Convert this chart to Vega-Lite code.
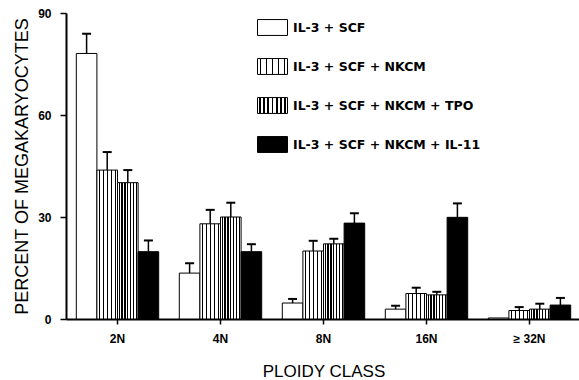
{
  "$schema": "https://vega.github.io/schema/vega-lite/v6.json",
  "autosize": "none",
  "padding": {"left": 66, "top": 13, "right": 0, "bottom": 61},
  "width": 515,
  "height": 306,
  "background": "white",
  "data": {
    "values": [
      {"ploidy": "2N", "group": "IL-3 + SCF", "pct": 78.1, "hi": 83.9},
      {"ploidy": "2N", "group": "IL-3 + SCF + NKCM", "pct": 43.8, "hi": 49.1},
      {"ploidy": "2N", "group": "IL-3 + SCF + NKCM + TPO", "pct": 40.1, "hi": 43.8},
      {"ploidy": "2N", "group": "IL-3 + SCF + NKCM + IL-11", "pct": 19.8, "hi": 23.1},
      {"ploidy": "4N", "group": "IL-3 + SCF", "pct": 13.5, "hi": 16.4},
      {"ploidy": "4N", "group": "IL-3 + SCF + NKCM", "pct": 28.0, "hi": 32.1},
      {"ploidy": "4N", "group": "IL-3 + SCF + NKCM + TPO", "pct": 30.0, "hi": 34.2},
      {"ploidy": "4N", "group": "IL-3 + SCF + NKCM + IL-11", "pct": 19.8, "hi": 22.0},
      {"ploidy": "8N", "group": "IL-3 + SCF", "pct": 4.7, "hi": 5.9},
      {"ploidy": "8N", "group": "IL-3 + SCF + NKCM", "pct": 20.0, "hi": 23.0},
      {"ploidy": "8N", "group": "IL-3 + SCF + NKCM + TPO", "pct": 22.1, "hi": 23.6},
      {"ploidy": "8N", "group": "IL-3 + SCF + NKCM + IL-11", "pct": 28.2, "hi": 31.1},
      {"ploidy": "16N", "group": "IL-3 + SCF", "pct": 2.9, "hi": 3.9},
      {"ploidy": "16N", "group": "IL-3 + SCF + NKCM", "pct": 7.5, "hi": 9.2},
      {"ploidy": "16N", "group": "IL-3 + SCF + NKCM + TPO", "pct": 7.1, "hi": 8.0},
      {"ploidy": "16N", "group": "IL-3 + SCF + NKCM + IL-11", "pct": 29.9, "hi": 34.0},
      {"ploidy": "≥ 32N", "group": "IL-3 + SCF", "pct": 0.3, "hi": null},
      {"ploidy": "≥ 32N", "group": "IL-3 + SCF + NKCM", "pct": 2.5, "hi": 3.5},
      {"ploidy": "≥ 32N", "group": "IL-3 + SCF + NKCM + TPO", "pct": 2.9, "hi": 4.5},
      {"ploidy": "≥ 32N", "group": "IL-3 + SCF + NKCM + IL-11", "pct": 4.1, "hi": 6.2}
    ]
  },
  "encoding": {
    "x": {
      "field": "ploidy",
      "type": "nominal",
      "sort": ["2N", "4N", "8N", "16N", "≥ 32N"],
      "scale": {"paddingInner": 0.2, "paddingOuter": 0.1},
      "axis": {
        "title": "PLOIDY CLASS",
        "labelAngle": 0,
        "domainColor": "black",
        "domainWidth": 2,
        "tickColor": "black",
        "tickWidth": 1.5,
        "tickSize": 5,
        "labelPadding": 9,
        "labelFont": "Liberation Sans",
        "labelFontWeight": "bold",
        "labelFontSize": 12,
        "labelColor": "black",
        "titleFont": "Liberation Sans",
        "titleFontWeight": "normal",
        "titleFontSize": 17,
        "titleColor": "black",
        "titlePadding": 19
      }
    },
    "xOffset": {
      "field": "group",
      "type": "nominal",
      "sort": ["IL-3 + SCF", "IL-3 + SCF + NKCM", "IL-3 + SCF + NKCM + TPO", "IL-3 + SCF + NKCM + IL-11"],
      "scale": {"paddingInner": 0, "paddingOuter": 0}
    }
  },
  "layer": [
    {
      "mark": {"type": "bar", "stroke": "black", "strokeWidth": 1},
      "encoding": {
        "y": {
          "field": "pct",
          "type": "quantitative",
          "scale": {"domain": [0, 90]},
          "axis": {
            "title": "PERCENT OF MEGAKARYOCYTES",
            "values": [0, 30, 60, 90],
            "grid": false,
            "domainColor": "black",
            "domainWidth": 2,
            "tickColor": "black",
            "tickWidth": 1.5,
            "tickSize": 6,
            "labelPadding": 9,
            "labelFont": "Liberation Sans",
            "labelFontWeight": "bold",
            "labelFontSize": 12,
            "labelColor": "black",
            "titleFont": "Liberation Sans",
            "titleFontWeight": "normal",
            "titleFontSize": 18,
            "titleColor": "black",
            "titlePadding": 6
          }
        },
        "fill": {
          "field": "group",
          "type": "nominal",
          "sort": ["IL-3 + SCF", "IL-3 + SCF + NKCM", "IL-3 + SCF + NKCM + TPO", "IL-3 + SCF + NKCM + IL-11"],
          "scale": {
            "range": [
              "white",
              {"expr": "{gradient:'linear',x1:0,y1:0,x2:1,y2:0,stops:[{offset:0,color:'white'},{offset:0.08,color:'white'},{offset:0.08,color:'black'},{offset:0.13,color:'black'},{offset:0.13,color:'white'},{offset:0.28,color:'white'},{offset:0.28,color:'black'},{offset:0.33,color:'black'},{offset:0.33,color:'white'},{offset:0.48,color:'white'},{offset:0.48,color:'black'},{offset:0.53,color:'black'},{offset:0.53,color:'white'},{offset:0.68,color:'white'},{offset:0.68,color:'black'},{offset:0.73,color:'black'},{offset:0.73,color:'white'},{offset:0.88,color:'white'},{offset:0.88,color:'black'},{offset:0.93,color:'black'},{offset:0.93,color:'white'},{offset:1,color:'white'}]}"},
              {"expr": "{gradient:'linear',x1:0,y1:0,x2:1,y2:0,stops:[{offset:0,color:'white'},{offset:0.05,color:'white'},{offset:0.05,color:'black'},{offset:0.11,color:'black'},{offset:0.11,color:'white'},{offset:0.19,color:'white'},{offset:0.19,color:'black'},{offset:0.25,color:'black'},{offset:0.25,color:'white'},{offset:0.33,color:'white'},{offset:0.33,color:'black'},{offset:0.39,color:'black'},{offset:0.39,color:'white'},{offset:0.47,color:'white'},{offset:0.47,color:'black'},{offset:0.53,color:'black'},{offset:0.53,color:'white'},{offset:0.61,color:'white'},{offset:0.61,color:'black'},{offset:0.67,color:'black'},{offset:0.67,color:'white'},{offset:0.75,color:'white'},{offset:0.75,color:'black'},{offset:0.81,color:'black'},{offset:0.81,color:'white'},{offset:0.89,color:'white'},{offset:0.89,color:'black'},{offset:0.95,color:'black'},{offset:0.95,color:'white'},{offset:1,color:'white'}]}"},
              "black"
            ]
          },
          "legend": {
            "title": null,
            "orient": "none",
            "legendX": 191,
            "legendY": -1,
            "padding": 0,
            "symbolType": "M-1,-0.53H1V0.53H-1Z",
            "symbolSize": 900,
            "symbolStrokeColor": "black",
            "symbolStrokeWidth": 1,
            "symbolOpacity": 1,
            "labelFont": "DejaVu Sans",
            "labelFontWeight": "bold",
            "labelFontSize": 12.5,
            "labelColor": "black",
            "labelOffset": 5,
            "rowPadding": 13,
            "labelLimit": 300
          }
        }
      }
    },
    {
      "transform": [{"filter": "datum.hi != null"}],
      "mark": {"type": "rule", "stroke": "black", "strokeWidth": 1.5},
      "encoding": {
        "y": {"field": "pct", "type": "quantitative"},
        "y2": {"field": "hi"}
      }
    },
    {
      "transform": [{"filter": "datum.hi != null"}],
      "mark": {"type": "tick", "color": "black", "size": 9, "thickness": 2, "opacity": 1},
      "encoding": {
        "y": {"field": "hi", "type": "quantitative"}
      }
    }
  ],
  "config": {
    "view": {"stroke": null},
    "axis": {"grid": false}
  }
}
